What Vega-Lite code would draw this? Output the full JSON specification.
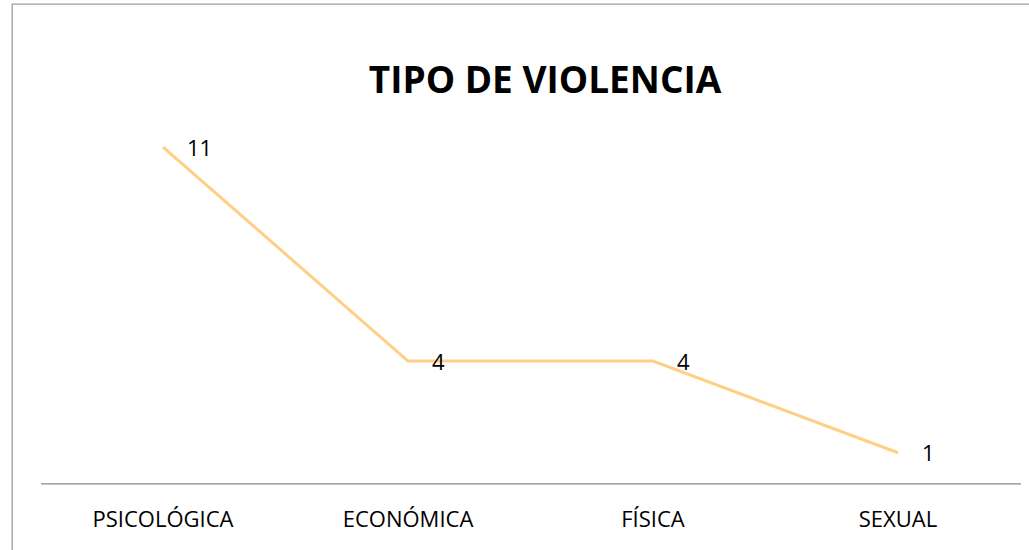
{
  "$schema": "https://vega.github.io/schema/vega-lite/v6.json",
  "autosize": {"type": "none"},
  "padding": {"left": 12, "top": 4, "right": 0, "bottom": 0},
  "width": 1017,
  "height": 546,
  "background": "white",
  "config": {
    "view": {"stroke": "#9E9E9E", "strokeWidth": 1.3, "strokeDash": [1017, 1563, 546, 1]},
    "font": "Open Sans"
  },
  "title": {
    "text": "TIPO DE VIOLENCIA",
    "font": "Open Sans",
    "fontSize": 37,
    "fontWeight": "bold",
    "color": "#000000",
    "anchor": "middle",
    "frame": "group",
    "baseline": "alphabetic",
    "dx": 24.5,
    "offset": -126
  },
  "data": {
    "values": [
      {"tipo": "PSICOLÓGICA", "valor": 11},
      {"tipo": "ECONÓMICA", "valor": 4},
      {"tipo": "FÍSICA", "valor": 4},
      {"tipo": "SEXUAL", "valor": 1}
    ]
  },
  "encoding": {
    "x": {
      "field": "tipo",
      "type": "nominal",
      "sort": null,
      "scale": {"type": "band", "range": [28.5, 1008.5], "paddingInner": 0, "paddingOuter": 0},
      "axis": {
        "title": null,
        "orient": "bottom",
        "offset": -66.7,
        "ticks": false,
        "grid": false,
        "domainColor": "#888888",
        "domainWidth": 1.3,
        "labelFont": "Open Sans",
        "labelFontSize": 22,
        "labelColor": "#000000",
        "labelPadding": 26,
        "labelAngle": 0
      }
    },
    "y": {
      "field": "valor",
      "type": "quantitative",
      "scale": {"domain": [0, 12], "range": [479.3, 112.5], "zero": true, "nice": false},
      "axis": null
    }
  },
  "layer": [
    {
      "mark": {"type": "line", "color": "#FFCF85", "strokeWidth": 3}
    },
    {
      "mark": {"type": "text", "align": "left", "baseline": "middle", "dx": 24, "dy": 1.5, "font": "Open Sans", "fontSize": 22, "color": "#000000"},
      "encoding": {"text": {"field": "valor", "type": "quantitative"}}
    }
  ]
}
